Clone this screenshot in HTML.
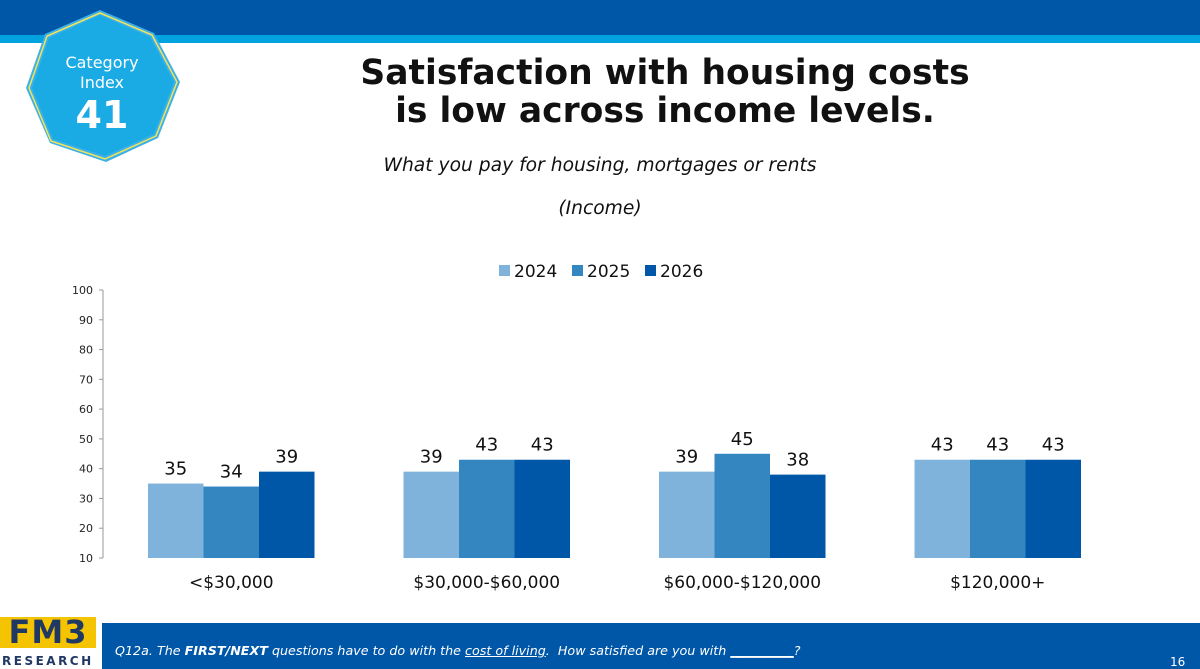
<!DOCTYPE html>
<html><head><meta charset="utf-8"><style>
body{margin:0;width:1200px;height:669px;overflow:hidden;background:#fff;font-family:"DejaVu Sans","Liberation Sans",sans-serif;position:relative}
.abs{position:absolute}
</style></head><body>
<div class="abs" style="left:0;top:0;width:1200px;height:35px;background:#0057a8"></div>
<div class="abs" style="left:0;top:35px;width:1200px;height:8px;background:#00a3e0"></div>
<svg class="abs" style="left:0;top:0" width="200" height="170">
<polygon points="100,10 154,33 180,82 158,138 106,162 50,143 26,88 45,34" fill="#3cb0e8"/>
<polygon points="100,13 152,35 177,82 156,136 105,159 51,141 29,88 47,36" fill="none" stroke="#f3e45a" stroke-width="1.5"/>
<polygon points="100,15 150,37 174,82 154,134 105,156 53,139 32,88 49,38" fill="#1aabe4"/>
<text x="102" y="68" text-anchor="middle" fill="#fff" font-family="DejaVu Sans,sans-serif" font-size="16">Category</text>
<text x="102" y="88" text-anchor="middle" fill="#fff" font-family="DejaVu Sans,sans-serif" font-size="16">Index</text>
<text x="102" y="128" text-anchor="middle" fill="#fff" font-family="DejaVu Sans,sans-serif" font-size="38" font-weight="bold">41</text>
</svg>
<div class="abs" style="left:265px;top:54px;width:800px;text-align:center;font-size:34.5px;font-weight:bold;line-height:38px;color:#111">Satisfaction with housing costs<br>is low across income levels.</div>
<div class="abs" style="left:250px;top:155px;width:700px;text-align:center;font-size:18.7px;font-style:italic;color:#111">What you pay for housing, mortgages or rents</div>
<div class="abs" style="left:250px;top:198px;width:700px;text-align:center;font-size:18.7px;font-style:italic;color:#111">(Income)</div>
<svg id="chart" class="abs" style="left:0;top:250px" width="1200" height="350"></svg>
<div class="abs" style="left:102px;top:623px;width:1098px;height:46px;background:#0057a8"></div>
<div class="abs" style="left:115px;top:643px;font-size:12.7px;font-style:italic;color:#fff;white-space:nowrap">Q12a. The <b>FIRST/NEXT</b> questions have to do with the <u>cost of living</u>.&nbsp; How satisfied are you with <u>__________</u>?</div>
<div class="abs" style="left:1170px;top:655px;font-size:12px;color:#fff">16</div>
<div class="abs" style="left:0;top:617px;width:96px;height:31px;background:#f5c400;color:#1f3864;font-weight:bold;font-size:32px;line-height:31px;text-align:center;letter-spacing:1px">FM3</div>
<div class="abs" style="left:2px;top:654px;font-size:12px;font-weight:bold;color:#1f3864;letter-spacing:2.5px">RESEARCH</div>
<script>
const categories=["<$30,000","$30,000-$60,000","$60,000-$120,000","$120,000+"];
const seriesNames=["2024","2025","2026"];
const s2024=[35,39,39,43];
const s2025=[34,43,45,43];
const s2026=[39,43,38,43];
const yTicks=[10,20,30,40,50,60,70,80,90,100];
const colors=["#7fb3dc","#3386c0","#0057a8"];
const svg=document.getElementById('chart');
const NS="http://www.w3.org/2000/svg";
const FF='DejaVu Sans,sans-serif';
const oy=250;
function y(v){return (558-oy)-(v-10)/90*268;}
function gx(i){return 148+i*255.5;}
const bw=55.5;
function mk(t,a){const e=document.createElementNS(NS,t);for(const k in a)e.setAttribute(k,a[k]);svg.appendChild(e);return e;}
const ax=mk('line',{x1:103,x2:103,y1:y(100),y2:y(10),stroke:'#999','stroke-width':1});


yTicks.forEach(t=>{
  const l=mk('line',{x1:99,x2:103,y1:y(t),y2:y(t),stroke:'#999'});
  
  
  const tx=mk('text',{x:93,y:y(t)+4,'text-anchor':'end','font-size':11,fill:'#222','font-family':FF});
  tx.textContent=t;
  
  
});
const all=[s2024,s2025,s2026];
categories.forEach((c,i)=>{
  all.forEach((s,j)=>{
    const x=gx(i)+j*bw;
    const r=mk('rect',{x:x,y:y(s[i]),width:bw,height:y(10)-y(s[i]),fill:colors[j]});
    
    
    const t=mk('text',{x:x+bw/2,y:y(s[i])-9,'text-anchor':'middle','font-size':18,fill:'#111','font-family':FF});
    t.textContent=s[i];
    
    
  });
  const ct=mk('text',{x:gx(i)+bw*1.5,y:y(10)+30,'text-anchor':'middle','font-size':17,fill:'#111','font-family':FF});
  ct.textContent=c;
  
  
});
const lx=[499,572,645];
seriesNames.forEach((n,j)=>{
  const r=mk('rect',{x:lx[j],y:15,width:11,height:11,fill:colors[j]});
  
  
  const t=mk('text',{x:lx[j]+15,y:27,'font-size':17,fill:'#111','font-family':FF});
  t.textContent=n;
  
  
});
</script>
</body></html>
